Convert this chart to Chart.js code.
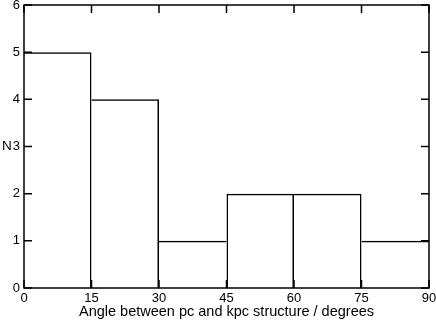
<!DOCTYPE html>
<html>
    <head>
        <meta charset="utf-8">
        <title>Angle histogram</title>
        <script src="https://cdn.jsdelivr.net/npm/chart.js@4/dist/chart.umd.min.js"></script>
        <style>
            body { margin: 0; background: #fff; }
            #wrap { width: 436px; height: 320px; }
        </style>
    </head>
    <body>
        <div id="wrap"><canvas id="hist-chart"></canvas></div>
        <script>
            // bins are 15 degrees wide, centres on the x axis
            var bin_edges = [0, 15, 30, 45, 60, 75, 90];
            var bin_counts = [5, 4, 1, 2, 2, 1];
            var x_ticks = [0, 15, 30, 45, 60, 75, 90];
            var y_ticks = [0, 1, 2, 3, 4, 5, 6];

            var line_w = 1.5;
            var font_family = '"Liberation Sans", Helvetica, Arial, sans-serif';

            var data = [];
            for (i = 0; i < bin_counts.length; i++) {
                data.push({x: (bin_edges[i] + bin_edges[i + 1]) / 2, y: bin_counts[i]});
            }

            // a shared edge is drawn only once, by the taller of the two bars;
            // the outer edges are left to the frame
            function edges(ctx) {
                var i = ctx.dataIndex;
                var n = bin_counts.length;
                var left = (i > 0 && bin_counts[i] > bin_counts[i - 1]) ? line_w : 0;
                var right = (i < n - 1 && bin_counts[i] >= bin_counts[i + 1]) ? line_w : 0;
                return {top: line_w, left: left, right: right, bottom: 0};
            }

            // frame round the plot and inward ticks on all four sides
            var framePlugin = {
                id: 'frame',
                afterDraw: function(chart) {
                    var c = chart.ctx, a = chart.chartArea;
                    var sx = chart.scales.x, sy = chart.scales.y;
                    var tl = 8;
                    c.save();
                    c.strokeStyle = '#000';
                    c.lineWidth = line_w;
                    c.beginPath();
                    x_ticks.forEach(function(v) {
                        var px = sx.getPixelForValue(v);
                        c.moveTo(px, a.bottom); c.lineTo(px, a.bottom - tl);
                        c.moveTo(px, a.top); c.lineTo(px, a.top + tl);
                    });
                    y_ticks.forEach(function(v) {
                        var py = sy.getPixelForValue(v);
                        c.moveTo(a.left, py); c.lineTo(a.left + tl, py);
                        c.moveTo(a.right, py); c.lineTo(a.right - tl, py);
                    });
                    c.stroke();
                    c.strokeRect(a.left, a.top, a.right - a.left, a.bottom - a.top);
                    c.fillStyle = '#000';
                    c.font = '13.5px ' + font_family;
                    c.textAlign = 'left';
                    c.textBaseline = 'middle';
                    c.fillText('N', 2, (a.top + a.bottom) / 2);
                    c.restore();
                }
            };

            new Chart(document.getElementById('hist-chart'), {
                type: 'bar',
                data: {
                    datasets: [{
                        data: data,
                        backgroundColor: 'rgba(0,0,0,0)',
                        borderColor: '#000',
                        borderWidth: edges,
                        borderSkipped: false,
                        inflateAmount: 0,
                        barPercentage: 1.0,
                        categoryPercentage: 1.0
                    }]
                },
                options: {
                    responsive: true,
                    maintainAspectRatio: false,
                    animation: false,
                    layout: {padding: {left: 0, top: 5, right: 7, bottom: 0}},
                    plugins: {legend: {display: false}, tooltip: {enabled: false}},
                    scales: {
                        x: {
                            type: 'linear',
                            offset: false,
                            min: 0,
                            max: 90,
                            afterBuildTicks: function(s) { s.ticks = x_ticks.map(v => ({value: v})); },
                            afterFit: function(s) { s.height = 32; s.paddingLeft = 0; s.paddingRight = 0; },
                            grid: {display: false, drawTicks: false},
                            border: {display: false},
                            ticks: {color: '#000', padding: 3, maxRotation: 0, font: {size: 13, family: font_family}},
                            title: {
                                display: true,
                                text: 'Angle between pc and kpc structure / degrees',
                                color: '#000',
                                padding: {top: 0, bottom: 0},
                                font: {size: 14.5, family: font_family, lineHeight: 1.1}
                            }
                        },
                        y: {
                            min: 0,
                            max: 6,
                            afterBuildTicks: function(s) { s.ticks = y_ticks.map(v => ({value: v})); },
                            afterFit: function(s) { s.width = 24; s.paddingTop = 0; s.paddingBottom = 0; },
                            grid: {display: false, drawTicks: false},
                            border: {display: false},
                            ticks: {color: '#000', padding: 4, font: {size: 13, family: font_family}}
                        }
                    }
                },
                plugins: [framePlugin]
            });
        </script>
    </body>
</html>
